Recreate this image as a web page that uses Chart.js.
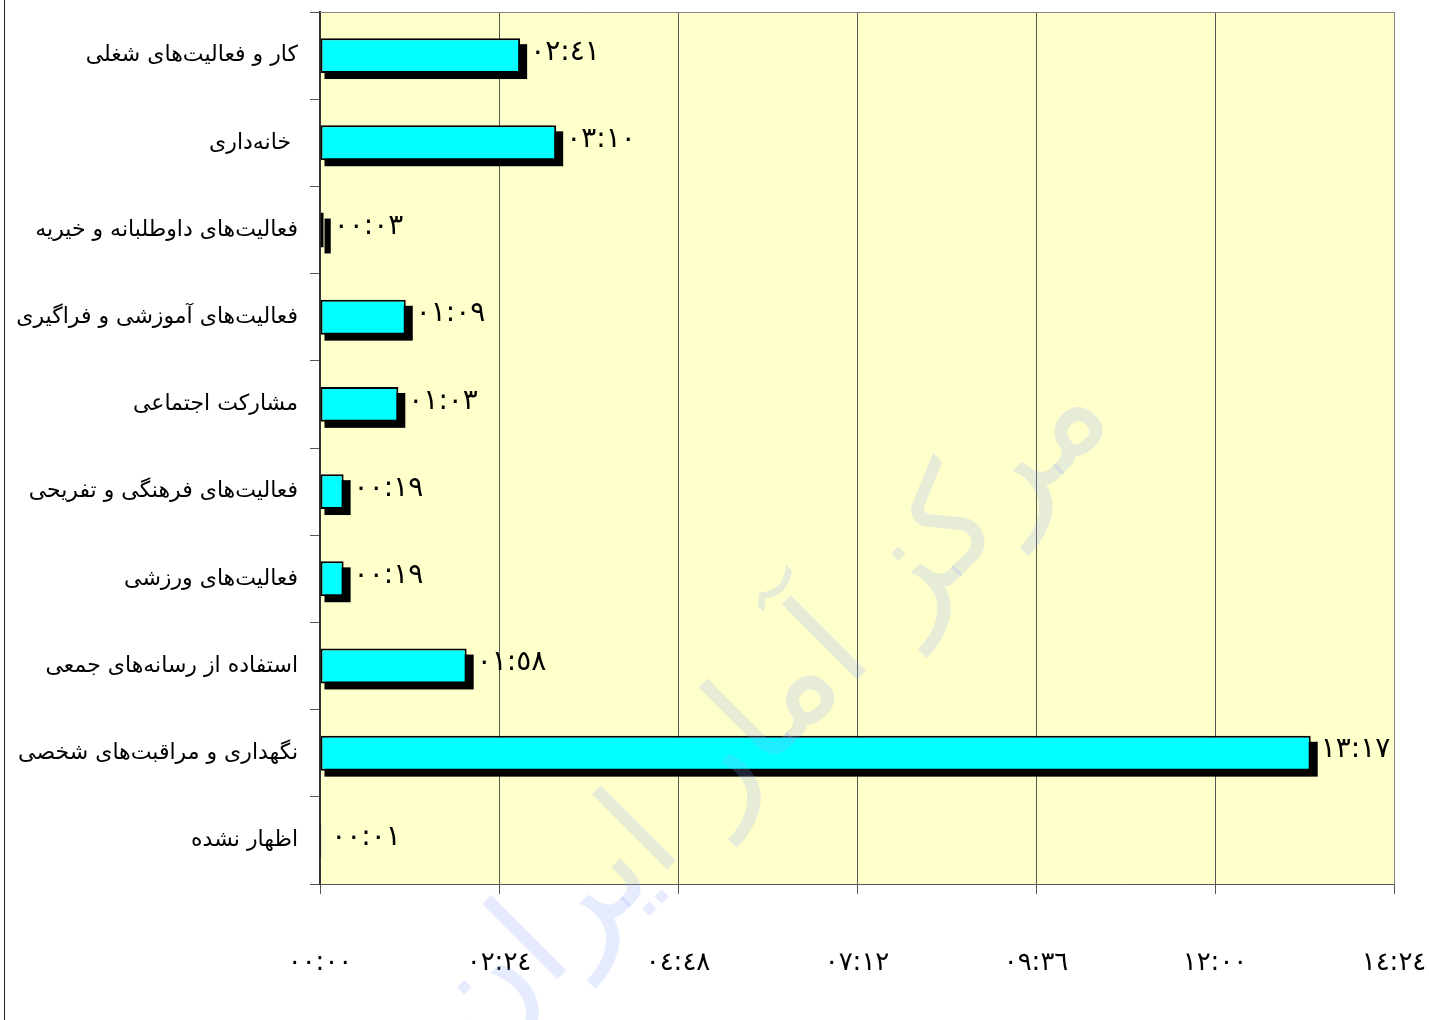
<!DOCTYPE html>
<html>
<head>
<meta charset="utf-8">
<script src="https://cdn.jsdelivr.net/npm/chart.js@4"></script>
<style>
  body { margin: 0; background: #fff; }
  #wrap { width: 1429px; height: 1020px; }
</style>
</head>
<body>
<div id="wrap"><canvas id="timeChart" width="1429" height="1020"></canvas></div>
<script>
// فعالیت‌ها (از بالا به پایین)
var categories = [
    'کار و فعالیت‌های شغلی',
    'خانه‌داری ',
    'فعالیت‌های داوطلبانه و خیریه',
    'فعالیت‌های آموزشی و فراگیری',
    'مشارکت اجتماعی',
    'فعالیت‌های فرهنگی و تفریحی',
    'فعالیت‌های ورزشی',
    'استفاده از رسانه‌های جمعی',
    'نگهداری و مراقبت‌های شخصی',
    'اظهار نشده'
];
// مدت زمان به دقیقه
var minutes = [161, 190, 3, 69, 63, 19, 19, 118, 797, 1];
// محور افقی: ۰۰:۰۰ تا ۱۴:۲۴ با گام ۰۲:۲۴
var axisMax = 864;
var axisStep = 144;
var watermark = 'مرکز آمار ایران';

var arabicDigits = '٠١٢٣٤٥٦٧٨٩';
function toArabic(s) {
    return String(s).replace(/[0-9]/g, function (d) { return arabicDigits[+d]; });
}
function hhmm(m) {
    var h = Math.floor(m / 60), mm = Math.round(m % 60);
    return toArabic((h < 10 ? '0' : '') + h + ':' + (mm < 10 ? '0' : '') + mm);
}

var fontFamily = '"DejaVu Sans", sans-serif';

// پس‌زمینه، کادر، سایه‌ی میله‌ها
var decorPlugin = {
    id: 'decor',
    beforeDraw: function (chart) {
        var ctx = chart.ctx, a = chart.chartArea;
        ctx.save();
        ctx.fillStyle = '#FFFFCC';
        ctx.fillRect(a.left, a.top, a.right - a.left, a.bottom - a.top);
        ctx.strokeStyle = '#222';
        ctx.lineWidth = 1;
        ctx.beginPath();
        ctx.moveTo(4.5, 0);
        ctx.lineTo(4.5, chart.height);
        ctx.stroke();
        ctx.restore();
    },
    beforeDatasetsDraw: function (chart) {
        var ctx = chart.ctx, a = chart.chartArea;
        ctx.save();
        ctx.strokeStyle = '#888';
        ctx.lineWidth = 1;
        ctx.beginPath();
        ctx.moveTo(a.left, a.top + 0.5);
        ctx.lineTo(a.right + 0.5, a.top + 0.5);
        ctx.lineTo(a.right + 0.5, a.bottom);
        ctx.stroke();
        ctx.fillStyle = '#000';
        chart.getDatasetMeta(0).data.forEach(function (bar, i) {
            if (minutes[i] < 2) return;
            var p = bar.getProps(['x', 'y', 'base', 'height'], true);
            ctx.fillRect(p.base + 4, p.y - p.height / 2 + 6, p.x - p.base + 3, p.height);
        });
        ctx.restore();
    },
    afterDatasetsDraw: function (chart) {
        var ctx = chart.ctx;
        ctx.save();
        ctx.fillStyle = '#000';
        ctx.font = '28px ' + fontFamily;
        ctx.textAlign = 'left';
        ctx.textBaseline = 'middle';
        chart.getDatasetMeta(0).data.forEach(function (bar, i) {
            var p = bar.getProps(['x', 'y'], true);
            ctx.fillText(hhmm(minutes[i]), p.x + 10, p.y - 3);
        });
        ctx.restore();
    },
    afterDraw: function (chart) {
        var ctx = chart.ctx;
        ctx.save();
        ctx.translate(770, 715);
        ctx.rotate(-Math.PI / 4);
        ctx.globalAlpha = 0.22;
        ctx.fillStyle = 'rgb(140,170,250)';
        ctx.font = '140px ' + fontFamily;
        ctx.textAlign = 'center';
        ctx.textBaseline = 'middle';
        ctx.fillText(watermark, 0, 0);
        ctx.restore();
    }
};

var ctx = document.getElementById('timeChart').getContext('2d');
var timeChart = new Chart(ctx, {
    type: 'bar',
    data: {
        labels: categories,
        datasets: [{
            data: minutes,
            backgroundColor: '#00FFFF',
            borderColor: '#000',
            borderWidth: 2,
            borderSkipped: false,
            categoryPercentage: 1,
            barPercentage: 0.4
        }]
    },
    options: {
        indexAxis: 'y',
        responsive: false,
        animation: false,
        layout: { padding: { top: 12, right: 35, left: 0, bottom: 0 } },
        plugins: {
            legend: { display: false },
            tooltip: { enabled: false }
        },
        scales: {
            x: {
                min: 0,
                max: axisMax,
                afterFit: function (s) { s.height = 136; s.paddingLeft = 0; s.paddingRight = 0; },
                ticks: {
                    stepSize: axisStep,
                    padding: 54,
                    color: '#000',
                    font: { family: fontFamily, size: 26 },
                    callback: function (v) { return hhmm(v); }
                },
                grid: { color: '#555', tickLength: 10 },
                border: { color: '#555' }
            },
            y: {
                afterFit: function (s) { s.width = 320; s.paddingTop = 0; s.paddingBottom = 0; },
                ticks: {
                    padding: 12,
                    color: '#000',
                    font: { family: fontFamily, size: 22 }
                },
                grid: { offset: true, drawOnChartArea: false, color: '#555', tickLength: 10 },
                border: { color: '#333', width: 2 }
            }
        }
    },
    plugins: [decorPlugin]
});
</script>
</body>
</html>
